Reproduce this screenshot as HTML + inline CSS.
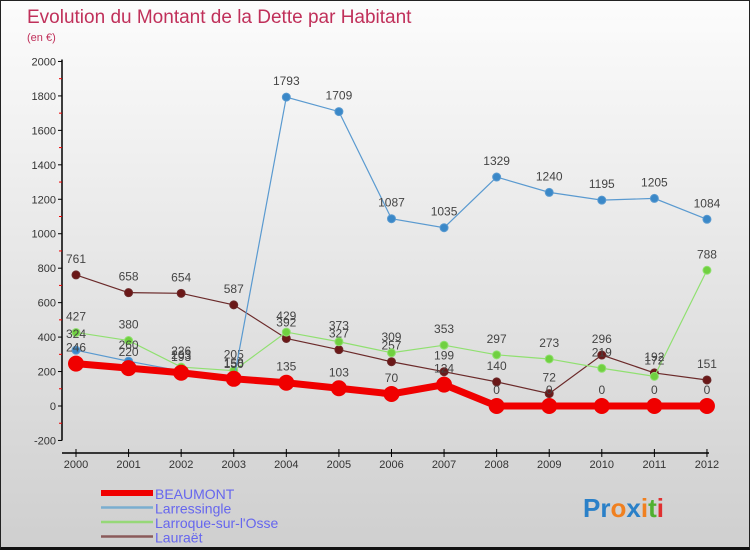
<!DOCTYPE html>
<html><head><meta charset="utf-8"><style>
body{margin:0}
#c{width:750px;height:550px;position:relative;background:linear-gradient(#fcfcfc,#cfcfcf);font-family:"Liberation Sans",sans-serif;overflow:hidden;box-sizing:border-box;border:1px solid #222;border-bottom:3px solid #111}
text{font-family:"Liberation Sans",sans-serif}
</style></head><body>
<div id="c">
<svg id="s" width="750" height="550">
<text x="26" y="22" font-size="19" fill="#c0305a">Evolution du Montant de la Dette par Habitant</text>
<text x="26" y="40" font-size="11" fill="#c0305a">(en €)</text>
</svg></div>
<script>
const years=["2000","2001","2002","2003","2004","2005","2006","2007","2008","2009","2010","2011","2012"];
const beaumont=[246,220,193,158,135,103,70,124,0,0,0,0,0];
const larressingle=[324,260,203,150,1793,1709,1087,1035,1329,1240,1195,1205,1084];
const larroque=[427,380,226,205,429,373,309,353,297,273,219,172,788];
const lauraet=[761,658,654,587,392,327,257,199,140,72,296,192,151];
const yTicks=[-200,0,200,400,600,800,1000,1200,1400,1600,1800,2000];
const NS="http://www.w3.org/2000/svg",s=document.getElementById('s');
const X=i=>75+i*52.58, Y=v=>405-v*0.17227;
function el(t,a,p){const e=document.createElementNS(NS,t);for(const k in a)e.setAttribute(k,a[k]);(p||s).appendChild(e);return e;}
const ax=el('g',{});


el('line',{x1:61,y1:Y(2000)-2,x2:61,y2:Y(-200),stroke:'#000','stroke-width':1.5},ax);
el('line',{x1:61,y1:452,x2:708,y2:452,stroke:'#000','stroke-width':1.5},ax);
yTicks.forEach((v,i)=>{el('line',{x1:57,x2:61,y1:Y(v),y2:Y(v),stroke:'#000'},ax);
 if(i<yTicks.length-1)el('line',{x1:58,x2:61,y1:Y(v+100),y2:Y(v+100),stroke:'#e00'},ax);
 const t=el('text',{x:55,y:Y(v)+4,'text-anchor':'end','font-size':11,fill:'#333'},ax);t.textContent=v;
 
 });
years.forEach((y,i)=>{el('line',{x1:X(i),x2:X(i),y1:448,y2:456,stroke:'#000'},ax);
 const t=el('text',{x:X(i),y:467,'text-anchor':'middle','font-size':11,fill:'#333'},ax);t.textContent=y;
 
 });
function series(name,data,col,dot,w,r){const g=el('g',{});
 
 
 el('polyline',{points:data.map((v,i)=>X(i)+','+Y(v)).join(' '),fill:'none',stroke:col,'stroke-width':w},g);
 data.forEach((v,i)=>{const c=el('circle',{cx:X(i),cy:Y(v),r:r,fill:dot,stroke:col,'stroke-width':1},g);
  
  
  const t=el('text',{x:X(i),y:Y(v)-12,'text-anchor':'middle','font-size':12,fill:'#444'},g);t.textContent=v;
  
  });}
series('lauraet',lauraet,'#6b2a2a','#6b1818',1.2,4);
series('larroque',larroque,'#90e070','#70d040',1.2,4);
series('larressingle',larressingle,'#5a9ad0','#3a88c8',1.2,4);
series('beaumont',beaumont,'#f00000','#f00000',7,7.5);
const lg=[['BEAUMONT','#f00000',6],['Larressingle','#7aaed0',2.5],['Larroque-sur-l\'Osse','#96d878',2.5],['Lauraët','#8a5a5a',2.5]];
lg.forEach((l,i)=>{const y=492+i*14.5;
 el('line',{x1:100,x2:152,y1:y,y2:y,stroke:l[1],'stroke-width':l[2]});
 const t=el('text',{x:154,y:y+6,'font-size':14,fill:'#6666ee'});t.textContent=l[0];
 
 });
const p=el('text',{x:582,y:516,'font-size':26,'font-weight':'bold'});


[['Pr','#2a80c8'],['o','#f08020'],['x','#2a80c8'],['i','#f08020'],['t','#50b030'],['i','#e03030']].forEach(a=>{const t=el('tspan',{fill:a[1]},p);t.textContent=a[0];});
</script>
</body></html>
